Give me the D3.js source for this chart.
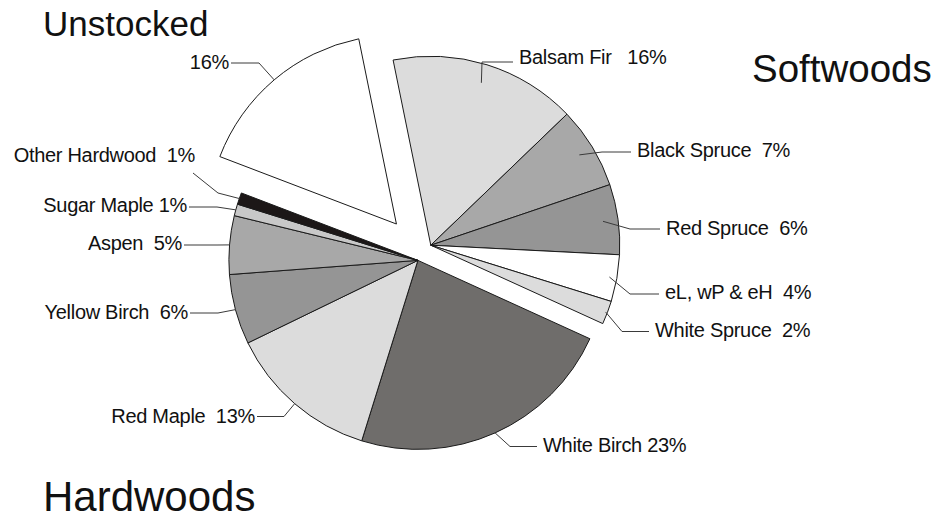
<!DOCTYPE html>
<meta charset="utf-8">
<script src="https://d3js.org/d3.v7.min.js"></script>
<style>
  body { margin: 0; background: #fff; }
  text { font-family: "Liberation Sans", Arial, sans-serif; fill: #111; white-space: pre; }
</style>
<div id="chart"></div>
<script>
// data
const species = ["Balsam Fir", "Black Spruce", "Red Spruce", "eL, wP & eH", "White Spruce",
                 "White Birch", "Red Maple", "Yellow Birch", "Aspen", "Sugar Maple", "Other Hardwood",
                 "Unstocked"];
const speciesGroup = ["Softwoods", "Softwoods", "Softwoods", "Softwoods", "Softwoods",
                      "Hardwoods", "Hardwoods", "Hardwoods", "Hardwoods", "Hardwoods", "Hardwoods",
                      "Unstocked"];
const percents = [16, 7, 6, 4, 2, 23, 13, 6, 5, 1, 1, 16];
const labelText = ["Balsam Fir   16%", "Black Spruce  7%", "Red Spruce  6%", "eL, wP & eH  4%", "White Spruce  2%",
                   "White Birch 23%", "Red Maple  13%", "Yellow Birch  6%", "Aspen  5%", "Sugar Maple 1%", "Other Hardwood  1%",
                   "16%"];
const groupTitles = ["Unstocked", "Softwoods", "Hardwoods"];

// styles
const fills = ["#dcdcdc", "#a8a8a8", "#959595", "#ffffff", "#dcdcdc",
               "#6f6d6b", "#dcdcdc", "#959595", "#a8a8a8", "#c8c8c8", "#1c1717",
               "#ffffff"];

// label layout (x of text, y of horizontal leader, elbow x, text baseline)
const labelX   = [519, 637, 666, 665, 655, 543, 255, 188, 182, 187, 195, 229];
const leaderY  = [62, 152, 229, 294, 331.5, 446.5, 416.5, 313, 245, 207, 193, 63];
const elbowX   = [482, 602, 630, 630, 622, 510, 284, 218, 218, 217, 218, 259];
const textY    = [64, 157, 235, 299, 337, 452, 423, 319, 250, 212, 162, 69];
const startK   = [0.9, 0.92, 0.92, 0.96, 0.99, 1, 1, 1, 1, 1, 1, 1];

const width = 941, height = 521;
const center = [421, 253];
const R = 189;
const explode = {Softwoods: 12.5, Hardwoods: 8, Unstocked: 38};
const start = -11.5 * Math.PI / 180;

const svg = d3.select("#chart").append("svg")
  .attr("width", width).attr("height", height);

const data = species.map((s, i) => ({name: s, group: speciesGroup[i], value: percents[i], i: i}));

const pie = d3.pie().sort(null).value(d => d.value)
  .startAngle(start).endAngle(start + 2 * Math.PI);
const arcs = pie(data);

// each group is pulled out along its own middle angle
const groupOffset = {};
d3.groups(arcs, d => d.data.group).forEach(([g, list]) => {
  const a0 = d3.min(list, d => d.startAngle), a1 = d3.max(list, d => d.endAngle);
  const m = (a0 + a1) / 2;
  groupOffset[g] = [center[0] + explode[g] * Math.sin(m), center[1] - explode[g] * Math.cos(m)];
});

const arc = d3.arc().innerRadius(0).outerRadius(R);

svg.append("g").selectAll("path")
  .data(arcs)
  .join("path")
    .attr("transform", d => "translate(" + groupOffset[d.data.group] + ")")
    .attr("d", arc)
    .attr("fill", d => fills[d.data.i])
    .attr("stroke", "#1a1a1a")
    .attr("stroke-width", 1)
    .attr("stroke-linejoin", "round");

// leader lines
svg.append("g").selectAll("polyline")
  .data(arcs)
  .join("polyline")
    .attr("points", d => {
      const i = d.data.i, o = groupOffset[d.data.group];
      const m = (d.startAngle + d.endAngle) / 2, r = R * startK[i];
      const p0 = [o[0] + r * Math.sin(m), o[1] - r * Math.cos(m)];
      const left = labelX[i] < o[0];
      let pts;
      if (d.data.name === "Other Hardwood") {
        pts = [p0, [elbowX[i], leaderY[i]], [labelX[i] - 2, textY[i] + 11]];
      } else {
        const endX = left ? labelX[i] + 2 : labelX[i] - 6;
        pts = [p0, [elbowX[i], leaderY[i]], [endX, leaderY[i]]];
      }
      return pts.map(p => p.join(",")).join(" ");
    })
    .attr("fill", "none")
    .attr("stroke", "#3a3a3a")
    .attr("stroke-width", 1);

// slice labels
svg.append("g").selectAll("text")
  .data(arcs)
  .join("text")
    .attr("x", d => labelX[d.data.i])
    .attr("y", d => textY[d.data.i])
    .attr("text-anchor", d => labelX[d.data.i] < groupOffset[d.data.group][0] ? "end" : "start")
    .style("font-size", "20px")
    .style("letter-spacing", "-0.3px")
    .text(d => labelText[d.data.i]);

// group titles
const titleX = [43, 752, 43], titleY = [36, 82, 511], titleSize = [35, 38.5, 42];
svg.append("g").selectAll("text")
  .data(groupTitles)
  .join("text")
    .attr("x", (d, i) => titleX[i])
    .attr("y", (d, i) => titleY[i])
    .style("font-size", (d, i) => titleSize[i] + "px")
    .text(d => d);
</script>
